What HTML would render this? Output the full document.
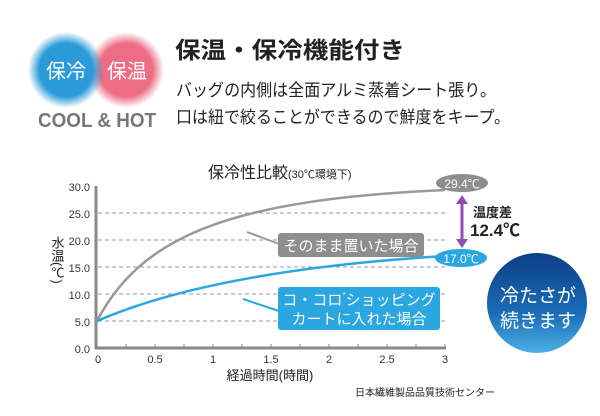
<!DOCTYPE html>
<html><head><meta charset="utf-8"><style>
body{margin:0;background:#fff;}
svg text{font-family:"Liberation Sans","Noto Sans CJK JP",sans-serif;}
</style></head><body>
<svg width="600" height="411" viewBox="0 0 600 411" xmlns="http://www.w3.org/2000/svg">
<defs>
<radialGradient id="gb"><stop offset="0.7" stop-color="#2a9ad8"/><stop offset="1" stop-color="#2a9ad8" stop-opacity="0"/></radialGradient>
<radialGradient id="gp"><stop offset="0.7" stop-color="#ec6d84"/><stop offset="1" stop-color="#ec6d84" stop-opacity="0"/></radialGradient>
<linearGradient id="cb" x1="0" y1="0" x2="0" y2="1"><stop offset="0" stop-color="#0d3f86"/><stop offset="0.6" stop-color="#1a6cb8"/><stop offset="1" stop-color="#4bb1e4"/></linearGradient>
</defs>
<circle cx="126" cy="70" r="38" fill="url(#gp)"/>
<circle cx="66" cy="70" r="38" fill="url(#gb)"/>
<text x="66" y="78" font-size="20" fill="#fff" text-anchor="middle">保冷</text>
<text x="127" y="78" font-size="20" fill="#fff" text-anchor="middle">保温</text>
<text x="97" y="127" font-size="20" font-weight="bold" fill="#777" text-anchor="middle" textLength="118" lengthAdjust="spacingAndGlyphs">COOL &amp; HOT</text>
<text x="175" y="58" font-size="23" font-weight="bold" fill="#222" textLength="230" lengthAdjust="spacingAndGlyphs">保温・保冷機能付き</text>
<text x="176" y="96" font-size="17" fill="#222" textLength="320" lengthAdjust="spacingAndGlyphs">バッグの内側は全面アルミ蒸着シート張り。</text>
<text x="176" y="123" font-size="17" fill="#222" textLength="334" lengthAdjust="spacingAndGlyphs">口は紐で絞ることができるので鮮度をキープ。</text>

<text x="208" y="178" font-size="16" fill="#222">保冷性比較<tspan font-size="11">(30℃環境下)</tspan></text>
<g stroke="#999" stroke-dasharray="4,3" stroke-width="1">
<line x1="98" y1="213" x2="445" y2="213"/><line x1="98" y1="240" x2="445" y2="240"/>
<line x1="98" y1="267" x2="445" y2="267"/><line x1="98" y1="294" x2="445" y2="294"/>
<line x1="98" y1="321" x2="445" y2="321"/></g>
<line x1="96" y1="186" x2="96" y2="349" stroke="#888" stroke-width="3"/>
<line x1="95" y1="348" x2="446" y2="348" stroke="#888" stroke-width="3"/>
<g stroke="#888" stroke-width="1">
<line x1="126" y1="344" x2="126" y2="348"/><line x1="155" y1="344" x2="155" y2="348"/><line x1="184" y1="344" x2="184" y2="348"/><line x1="213" y1="344" x2="213" y2="348"/><line x1="242" y1="344" x2="242" y2="348"/><line x1="271" y1="344" x2="271" y2="348"/><line x1="300" y1="344" x2="300" y2="348"/><line x1="329" y1="344" x2="329" y2="348"/><line x1="358" y1="344" x2="358" y2="348"/><line x1="387" y1="344" x2="387" y2="348"/><line x1="416" y1="344" x2="416" y2="348"/><line x1="445" y1="344" x2="445" y2="348"/></g>
<g font-size="11" fill="#333" text-anchor="end">
<text x="90" y="191">30.0</text><text x="90" y="218">25.0</text><text x="90" y="245">20.0</text><text x="90" y="272">15.0</text><text x="90" y="299">10.0</text><text x="90" y="326">5.0</text><text x="90" y="353">0.0</text></g>
<g font-size="11" fill="#333" text-anchor="middle">
<text x="98" y="363">0</text><text x="155" y="363">0.5</text><text x="213" y="363">1</text><text x="271" y="363">1.5</text><text x="329" y="363">2</text><text x="387" y="363">2.5</text><text x="445" y="363">3</text></g>
<text x="270" y="380" font-size="13" fill="#222" text-anchor="middle">経過時間(時間)</text>
<text x="57" y="236" font-size="13" fill="#222" writing-mode="tb">水温(℃)</text>
<text x="355" y="396" font-size="10" fill="#222">日本繊維製品品質技術センター</text>

<path d="M97 321 C140 240, 220 200, 445 190" fill="none" stroke="#999" stroke-width="2.5"/>
<path d="M97 321 C180 285, 300 265, 445 256" fill="none" stroke="#2aa6e0" stroke-width="2.5"/>
<path d="M247 232 L282 245" stroke="#999" stroke-width="2"/>
<rect x="278" y="233" width="146" height="24" rx="3" fill="#8e8e8e"/>
<text x="351" y="251" font-size="15" fill="#fff" text-anchor="middle">そのまま置いた場合</text>
<path d="M243 299 L282 312" stroke="#2aa6e0" stroke-width="2"/>
<rect x="278" y="287" width="162" height="43" rx="3" fill="#2aa6e0"/>
<text x="359" y="305" font-size="15" fill="#fff" text-anchor="middle">コ・コロ<tspan font-size="9" dy="-6">"</tspan><tspan dy="6">ショッピング</tspan></text>
<text x="359" y="324" font-size="15" fill="#fff" text-anchor="middle">カートに入れた場合</text>

<ellipse cx="462" cy="183" rx="26" ry="9" fill="#8e8e8e"/>
<text x="462" y="188" font-size="12" fill="#fff" text-anchor="middle">29.4℃</text>
<ellipse cx="461" cy="258" rx="26" ry="9" fill="#2aa6e0"/>
<text x="461" y="263" font-size="12" fill="#fff" text-anchor="middle">17.0℃</text>
<line x1="462" y1="203" x2="462" y2="240" stroke="#8a4fb0" stroke-width="3"/>
<polygon points="456,204 468,204 462,195" fill="#8a4fb0"/>
<polygon points="456,239 468,239 462,248" fill="#8a4fb0"/>
<text x="473" y="217" font-size="13" font-weight="bold" fill="#222">温度差</text>
<text x="470" y="236" font-size="17" font-weight="bold" fill="#222">12.4℃</text>

<circle cx="537" cy="303" r="50" fill="url(#cb)"/>
<text x="538" y="302" font-size="19" fill="#fff" text-anchor="middle">冷たさが</text>
<text x="538" y="327" font-size="19" fill="#fff" text-anchor="middle">続きます</text>
</svg>
</body></html>
